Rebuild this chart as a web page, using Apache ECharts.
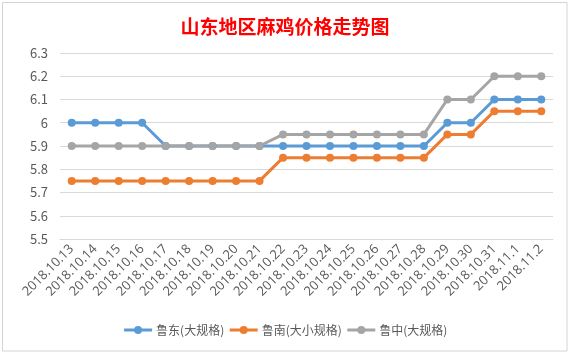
<!DOCTYPE html>
<html>
<head>
<meta charset="utf-8">
<script src="https://cdn.jsdelivr.net/npm/echarts@6/dist/echarts.min.js"></script>
<style>
  html, body { margin: 0; padding: 0; background: #fff; }
  #main { width: 570px; height: 354px; }
</style>
</head>
<body>
<div id="main"></div>
<script>
// 日期
var dates = ['2018.10.13', '2018.10.14', '2018.10.15', '2018.10.16', '2018.10.17',
  '2018.10.18', '2018.10.19', '2018.10.20', '2018.10.21', '2018.10.22', '2018.10.23',
  '2018.10.24', '2018.10.25', '2018.10.26', '2018.10.27', '2018.10.28', '2018.10.29',
  '2018.10.30', '2018.10.31', '2018.11.1', '2018.11.2'];

var seriesNames = ['鲁东(大规格)', '鲁南(大小规格)', '鲁中(大规格)'];

var ludong = [6.0, 6.0, 6.0, 6.0, 5.9, 5.9, 5.9, 5.9, 5.9, 5.9, 5.9,
  5.9, 5.9, 5.9, 5.9, 5.9, 6.0, 6.0, 6.1, 6.1, 6.1];
var lunan = [5.75, 5.75, 5.75, 5.75, 5.75, 5.75, 5.75, 5.75, 5.75, 5.85, 5.85,
  5.85, 5.85, 5.85, 5.85, 5.85, 5.95, 5.95, 6.05, 6.05, 6.05];
var luzhong = [5.9, 5.9, 5.9, 5.9, 5.9, 5.9, 5.9, 5.9, 5.9, 5.95, 5.95,
  5.95, 5.95, 5.95, 5.95, 5.95, 6.1, 6.1, 6.2, 6.2, 6.2];

var colors = ['#5B9BD5', '#ED7D31', '#A5A5A5'];

var chart = echarts.init(document.getElementById('main'), null, { renderer: 'canvas' });

function makeSeries(name, data) {
  return {
    name: name,
    type: 'line',
    data: data,
    symbol: 'circle',
    symbolSize: 8,
    lineStyle: { width: 3 },
    animation: false
  };
}

var option = {
  backgroundColor: '#ffffff',
  color: colors,
  textStyle: { fontFamily: 'Noto Sans CJK SC' },
  title: {
    text: '山东地区麻鸡价格走势图',
    left: 'center',
    top: 12,
    textStyle: {
      color: '#FF0000',
      fontSize: 19,
      fontWeight: 'bold',
      fontFamily: 'Noto Sans CJK SC'
    }
  },
  graphic: [{
    type: 'rect',
    shape: { x: 2.5, y: 2.5, width: 564.5, height: 348.5 },
    style: { fill: null, stroke: '#D4D4D4', lineWidth: 1 },
    silent: true
  }],
  legend: {
    data: seriesNames,
    bottom: 13,
    left: 'center',
    itemWidth: 28,
    itemHeight: 10,
    itemGap: 4,
    lineStyle: { width: 3 },
    textStyle: { color: '#595959', fontSize: 12, padding: [0, 0, 0, -1] }
  },
  grid: {
    left: 60,
    right: 17,
    top: 53,
    bottom: 115
  },
  xAxis: {
    type: 'category',
    data: dates,
    boundaryGap: true,
    axisLine: { lineStyle: { color: '#D9D9D9' } },
    axisTick: { show: false },
    axisLabel: {
      rotate: 45,
      interval: 0,
      margin: 8,
      color: '#595959',
      fontSize: 13,
      fontFamily: 'Open Sans'
    }
  },
  yAxis: {
    type: 'value',
    min: 5.5,
    max: 6.3,
    interval: 0.1,
    axisLine: { show: false },
    axisTick: { show: false },
    axisLabel: {
      color: '#595959',
      fontSize: 13,
      margin: 12,
      formatter: function (v) { return String(Math.round(v * 10) / 10); }
    },
    splitLine: { lineStyle: { color: '#D9D9D9' } }
  },
  series: [
    makeSeries(seriesNames[0], ludong),
    makeSeries(seriesNames[1], lunan),
    makeSeries(seriesNames[2], luzhong)
  ]
};

chart.setOption(option);
</script>
</body>
</html>
